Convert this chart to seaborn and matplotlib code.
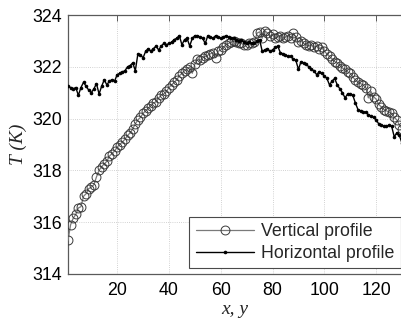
import matplotlib
matplotlib.use("Agg")
import matplotlib.pyplot as plt
import seaborn as sns
import pandas as pd
import numpy as np

x_vals = list(range(1, 131))

vertical_profile = [
    315.3, 315.9, 316.15, 316.3, 316.55, 316.6, 317.0, 317.1, 317.3, 317.35,
    317.45, 317.75, 318.0, 318.15, 318.25, 318.35, 318.55, 318.65, 318.75, 318.9,
    319.0, 319.1, 319.2, 319.35, 319.45, 319.6, 319.8, 319.95, 320.05, 320.2,
    320.3, 320.4, 320.5, 320.6, 320.65, 320.8, 320.9, 320.95, 321.05, 321.2,
    321.3, 321.4, 321.5, 321.65, 321.75, 321.85, 321.9, 322.0, 321.75, 322.1,
    322.3, 322.25, 322.35, 322.4, 322.45, 322.5, 322.55, 322.35, 322.6, 322.65,
    322.75, 322.85, 322.9, 322.95, 323.0, 322.95, 322.9, 322.9, 322.85, 322.85,
    322.9, 322.9, 322.95, 323.3, 323.35, 323.1, 323.4, 323.3, 323.2, 323.25,
    323.1, 323.15, 323.2, 323.1, 323.15, 323.2, 323.1, 323.3, 323.15, 322.95,
    323.0, 322.9, 322.85, 322.8, 322.85, 322.75, 322.8, 322.7, 322.75, 322.6,
    322.5, 322.4, 322.3, 322.2, 322.15, 322.05, 321.95, 321.9, 321.8, 321.75,
    321.6, 321.5, 321.4, 321.35, 321.3, 321.2, 320.8, 321.05, 320.85, 320.75,
    320.55, 320.45, 320.35, 320.3, 320.25, 320.2, 320.05, 319.95, 319.75, 319.6,
]

horizontal_profile = [
    321.25, 321.2, 321.15, 321.2, 320.9, 321.2, 321.4, 321.25, 321.1, 321.0,
    321.15, 321.35, 320.95, 321.25, 321.5, 321.3, 321.45, 321.5, 321.45, 321.7,
    321.75, 321.8, 321.85, 322.0, 322.05, 322.15, 321.85, 322.5, 322.45, 322.35,
    322.6, 322.7, 322.6, 322.7, 322.8, 322.65, 322.8, 322.9, 322.85, 322.9,
    322.95, 323.05, 323.1, 323.2, 322.85, 323.05, 323.1, 322.8, 323.1, 323.2,
    323.2, 323.15, 323.1, 322.9, 323.2, 323.15, 323.1, 323.2, 323.15, 323.1,
    323.15, 323.2, 323.15, 323.1, 323.1, 323.05, 323.0, 323.05, 322.95, 322.9,
    322.95, 322.9, 322.9, 323.0, 323.05, 322.6, 322.65, 322.7, 322.6, 322.65,
    322.75, 322.8, 322.55, 322.5, 322.45, 322.4, 322.4, 322.3, 322.25, 321.9,
    322.2, 322.15, 322.1, 322.0, 321.9, 321.85, 321.7, 321.8, 321.75, 321.65,
    321.55, 321.3, 321.45, 321.55, 321.3, 321.15, 321.0, 320.8, 320.95, 320.95,
    320.9, 320.6, 320.35, 320.3, 320.25, 320.25, 320.15, 320.1, 320.05, 319.95,
    319.8, 319.75, 319.7, 319.7, 319.75, 319.7, 319.3, 319.45, 319.35, 319.05,
]

series_labels = ["Vertical profile", "Horizontal profile"]
x_ticks = [20, 40, 60, 80, 100, 120]
y_ticks = [314, 316, 318, 320, 322, 324]

sns.set_theme(style="white")
plt.rcParams["font.family"] = ["Liberation Sans", "DejaVu Sans"]

fig = plt.figure(figsize=(4.02, 3.24), dpi=100)
ax = fig.add_axes([68 / 402, 50 / 324, 334 / 402, 259 / 324])

df_v = pd.DataFrame({"x": x_vals, "T": vertical_profile})
df_h = pd.DataFrame({"x": x_vals, "T": horizontal_profile})

sns.lineplot(data=df_v, x="x", y="T", ax=ax, color="#7a7a7a", linewidth=0.9,
             marker="o", markersize=6.4, markerfacecolor="none",
             markeredgecolor="#3a3a3a", markeredgewidth=0.7,
             label=series_labels[0], zorder=3)
sns.lineplot(data=df_h, x="x", y="T", ax=ax, color="black", linewidth=1.0,
             marker="o", markersize=2.6, markeredgewidth=0,
             markerfacecolor="black", label=series_labels[1], zorder=4)

ax.set_xlim(1, 130)
ax.set_ylim(314, 324)
ax.set_xticks(x_ticks)
ax.set_yticks(y_ticks)
ax.grid(True, linestyle=(0, (1, 1.6)), color="#c4c4c4", linewidth=0.6)
ax.set_axisbelow(True)

for side in ["left", "bottom", "top", "right"]:
    ax.spines[side].set_color("#5a5a5a")
    ax.spines[side].set_linewidth(0.9)
ax.spines["right"].set_visible(False)

ax.tick_params(axis="both", direction="in", length=4, width=0.7,
               color="#5a5a5a", labelsize=12.8, labelcolor="black",
               top=True, right=False)
ax.tick_params(axis="x", pad=6)
ax.tick_params(axis="y", pad=4)

ax.set_xlabel("x, y", family=["Liberation Serif"], style="italic", fontsize=14,
              labelpad=1)
ax.set_ylabel("T (K)", family=["Liberation Serif"], style="italic", fontsize=14,
              labelpad=4)

leg = ax.legend(loc="lower right", bbox_to_anchor=(0.997, 0.023),
                borderaxespad=0, fontsize=12.8, frameon=True, fancybox=False,
                edgecolor="#4a4a4a", handlelength=3.3, handletextpad=0.4,
                borderpad=0.35, labelspacing=0.25)
leg.get_frame().set_linewidth(0.8)
leg.get_frame().set_facecolor("white")
leg.get_frame().set_alpha(1)

fig.savefig("out.png", dpi=100)
